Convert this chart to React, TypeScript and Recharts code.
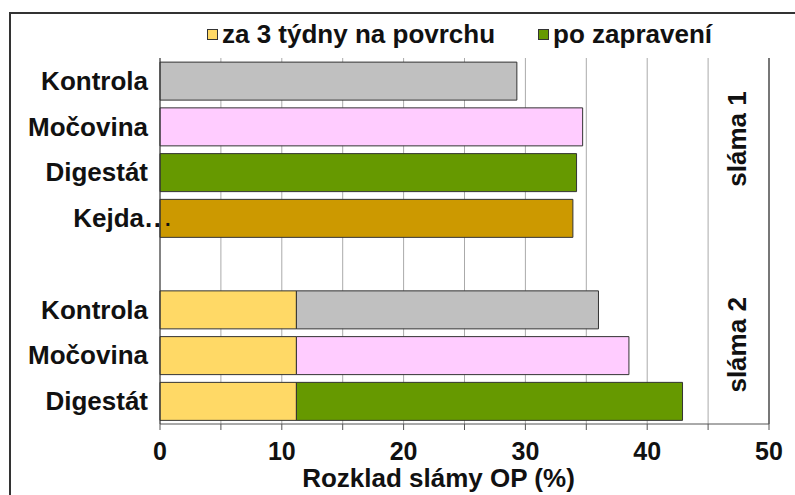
import React from 'react';
import {
  BarChart,
  Bar,
  XAxis,
  YAxis,
  CartesianGrid,
  Legend,
  ReferenceLine,
  Cell,
} from 'recharts';

const categories = ['Kontrola', 'Močovina', 'Digestát', 'Kejda', '', 'Kontrola', 'Močovina', 'Digestát'];
const povrch = [null, null, null, null, null, 11.2, 11.2, 11.2];
const zapraveni = [29.3, 34.7, 34.2, 33.9, null, 24.8, 27.3, 31.7];
const barColors = ['#C0C0C0', '#FFCCFF', '#669900', '#CC9900', '#FFFFFF', '#C0C0C0', '#FFCCFF', '#669900'];
const xTicks = [0, 5, 10, 15, 20, 25, 30, 35, 40, 45, 50];
const seriesNames = ['za 3 týdny na povrchu', 'po zapravení'];
const seriesColors = ['#FFD966', '#669900'];
const groupLabels = ['sláma 1', 'sláma 2'];
const axisTitle = 'Rozklad slámy OP (%)';

const data = categories.map((name, i) => ({
  name,
  povrch: povrch[i],
  zapraveni: zapraveni[i],
}));

const FONT = '"Liberation Sans", Arial, sans-serif';

const CategoryTick = (props: any) => {
  const { x, y, payload } = props;
  const label = payload.value;
  if (label === 'Kejda') {
    return (
      <g>
        <text x={x - 4} y={y} textAnchor="end" dominantBaseline="central" fontSize={26} fontWeight="bold" fill="#111" fontFamily={FONT}>
          Kejda
        </text>
        <text x={x - 3} y={y} textAnchor="start" dominantBaseline="central" fontSize={26} fontWeight="bold" fill="#111" fontFamily={FONT} letterSpacing={1.5}>
          ..
        </text>
        <text x={x + 17} y={y + 1} textAnchor="start" dominantBaseline="central" fontSize={20} fontWeight="bold" fill="#111" fontFamily={FONT}>
          .
        </text>
      </g>
    );
  }
  return (
    <text x={x} y={y} textAnchor="end" dominantBaseline="central" fontSize={26} fontWeight="bold" fill="#111" fontFamily={FONT}>
      {label}
    </text>
  );
};

const GroupLabels = (props: any) => {
  const vb = props.viewBox || {};
  const h = vb.height || 0;
  const slot = h / categories.length;
  const cx = (vb.x || 0) - 2;
  const pos = [1.77, 6.27];
  return (
    <g>
      {groupLabels.map((t, i) => {
        const cy = (vb.y || 0) + slot * pos[i];
        return (
          <text
            key={t}
            x={cx}
            y={cy}
            transform={`rotate(-90 ${cx} ${cy})`}
            textAnchor="middle"
            dominantBaseline="central"
            fontSize={26}
            fontWeight="bold"
            fill="#111"
            fontFamily={FONT}
          >
            {t}
          </text>
        );
      })}
    </g>
  );
};

const LegendContent = () => (
  <div style={{ height: 48, display: 'flex', alignItems: 'center', paddingLeft: 207, fontFamily: FONT, fontSize: 26, fontWeight: 'bold', color: '#111' }}>
    {seriesNames.map((n, i) => (
      <div key={n} style={{ display: 'flex', alignItems: 'center', marginRight: 43 }}>
        <span style={{ width: 9, height: 9, background: seriesColors[i], border: '1px solid #333', marginRight: 4 }} />
        <span>{n}</span>
      </div>
    ))}
  </div>
);

export default function App() {
  return (
    <div style={{ position: 'absolute', left: 0, top: 0, width: 795, height: 495, overflow: 'hidden', background: '#fff' }}>
      <div style={{ position: 'absolute', left: 9, top: 12, width: 800, height: 500, borderTop: '2px solid #333', borderLeft: '2px solid #333' }} />
      <BarChart
        width={795}
        height={495}
        data={data}
        layout="vertical"
        barCategoryGap="9%"
        margin={{ top: 10, right: 26, bottom: 8, left: 0 }}
        style={{ position: 'absolute', left: 0, top: 0 }}
      >
        <CartesianGrid horizontal={false} stroke="#AAAAAA" />
        <Legend verticalAlign="top" align="left" content={<LegendContent />} wrapperStyle={{ left: 0, width: 795 }} />
        <XAxis
          type="number"
          domain={[0, 50]}
          ticks={xTicks}
          interval={0}
          tickFormatter={(v: number) => (v % 10 === 0 ? String(v) : '')}
          axisLine={{ stroke: '#555' }}
          tickLine={{ stroke: '#555' }}
          tickSize={6}
          tickMargin={12}
          height={63}
          tick={{ fontSize: 25, fontWeight: 'bold', fill: '#111', fontFamily: FONT }}
          label={{ value: axisTitle, position: 'insideBottom', offset: 0, dx: -26, fontSize: 26, fontWeight: 'bold', fill: '#111', fontFamily: FONT }}
        />
        <XAxis
          xAxisId="top"
          orientation="top"
          type="number"
          domain={[0, 50]}
          height={0}
          tick={false}
          tickLine={false}
          axisLine={{ stroke: '#999' }}
        />
        <YAxis
          type="category"
          dataKey="name"
          width={160}
          axisLine={{ stroke: '#333' }}
          tickLine={false}
          tickSize={0}
          tickMargin={12}
          interval={0}
          tick={<CategoryTick />}
        />
        <ReferenceLine x={50} stroke="#777" strokeWidth={2} />
        <ReferenceLine x={47.5} stroke="none" label={(p: any) => <GroupLabels {...p} />} />
        <Bar dataKey="povrch" name={seriesNames[0]} stackId="a" fill={seriesColors[0]} stroke="#333" strokeWidth={1} isAnimationActive={false} />
        <Bar dataKey="zapraveni" name={seriesNames[1]} stackId="a" fill={seriesColors[1]} stroke="#333" strokeWidth={1} isAnimationActive={false}>
          {barColors.map((c, i) => (
            <Cell key={i} fill={c} />
          ))}
        </Bar>
      </BarChart>
    </div>
  );
}
